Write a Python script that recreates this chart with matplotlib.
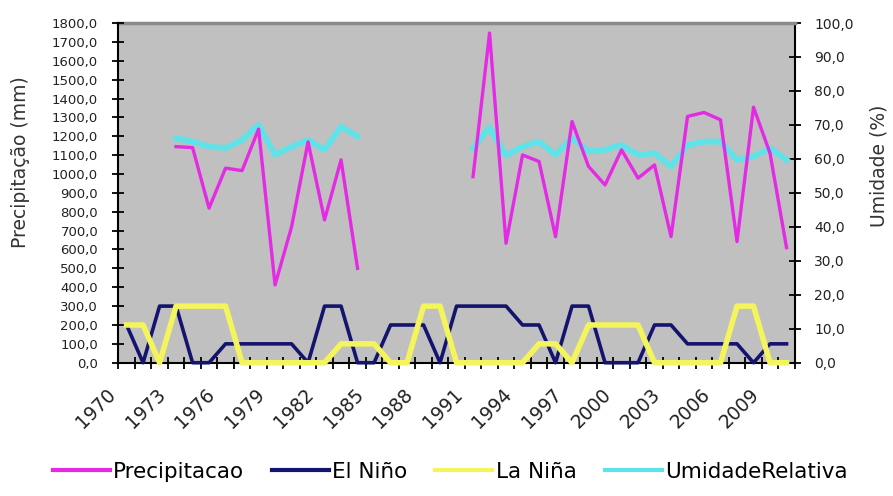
import matplotlib
matplotlib.use("Agg")
import matplotlib.pyplot as plt
import numpy as np
from matplotlib.transforms import ScaledTranslation

nan = np.nan

# Annual series, 1970-2010
years = list(range(1970, 2011))

precipitacao = [nan, nan, nan, 1145, 1140, 819, 1031, 1018, 1238, 412,
                720, 1170, 757, 1075, 500, nan, nan, nan, nan, nan,
                nan, 986, 1747, 633, 1101, 1066, 668, 1278, 1040, 942,
                1128, 978, 1048, 668, 1305, 1326, 1287, 642, 1354, 1110,
                610]

el_nino = [200, 0, 300, 300, 0, 0, 100, 100, 100, 100,
           100, 0, 300, 300, 0, 0, 200, 200, 200, 0,
           300, 300, 300, 300, 200, 200, 0, 300, 300, 0,
           0, 0, 200, 200, 100, 100, 100, 100, 0, 100,
           100]

la_nina = [200, 200, 0, 300, 300, 300, 300, 0, 0, 0,
           0, 0, 0, 100, 100, 100, 0, 0, 300, 300,
           0, 0, 0, 0, 0, 100, 100, 0, 200, 200,
           200, 200, 0, 0, 0, 0, 0, 300, 300, 0,
           0]

umidade = [nan, nan, nan, 66.1, 65.1, 63.6, 63.2, 65.6, 70.0, 61.2,
           63.6, 65.6, 62.7, 69.5, 66.6, nan, nan, nan, nan, nan,
           nan, 63.2, 69.3, 61.0, 63.6, 65.1, 61.2, 66.1, 62.2, 62.7,
           64.1, 61.2, 61.7, 57.8, 64.1, 65.1, 65.1, 59.7, 60.7, 63.2,
           59.7]

prec_ticks = list(range(0, 1900, 100))
umid_ticks = list(range(0, 110, 10))
year_labels = [str(y) for y in years[::3]]

series_names = ["Precipitacao", "El Niño", "La Niña", "UmidadeRelativa"]
colors = {"prec": "#E42BE4", "nino": "#14146E", "nina": "#F4F45C", "umid": "#5FE3E8"}
text_color = "#222222"

plt.rcParams["font.family"] = ["DejaVu Sans"]

fig = plt.figure(figsize=(8.93, 4.96), dpi=100)
fig.patch.set_facecolor("white")

ax = fig.add_axes([0.1325, 0.2687, 0.7575, 0.6849])
ax2 = ax.twinx()

# secondary axes carries the plot background and the humidity line,
# primary axes sits above it with a transparent patch
ax.set_zorder(2)
ax2.set_zorder(1)
ax.patch.set_visible(False)
ax2.patch.set_visible(True)
ax2.patch.set_facecolor("#C0C0C0")

x = np.arange(len(years))

l_umid, = ax2.plot(x, umidade, color=colors["umid"], lw=4.2, solid_joinstyle="round",
                   label=series_names[3])
l_nino, = ax.plot(x, el_nino, color=colors["nino"], lw=2.6, clip_on=False,
                  label=series_names[1], zorder=3)
l_nina, = ax.plot(x, la_nina, color=colors["nina"], lw=4.0, clip_on=False,
                  label=series_names[2], zorder=4)
l_prec, = ax.plot(x, precipitacao, color=colors["prec"], lw=2.4,
                  label=series_names[0], zorder=5)

ax.set_xlim(-0.5, len(years) - 0.5)
ax.set_ylim(0, 1800)
ax2.set_ylim(0, 100)

# category boundaries carry the tick marks, labels sit at category centres
ax.set_xticks(np.arange(-0.5, len(years), 1.0))
ax.set_xticklabels([])
ax.set_xticks(x[::3], minor=True)
ax.set_xticklabels(year_labels, minor=True, rotation=45, ha="right", va="top",
                   rotation_mode="anchor", fontsize=13.5, color=text_color)
ax.tick_params(axis="x", which="major", direction="inout", length=9, width=1.3, color="black")
ax.tick_params(axis="x", which="minor", length=0, pad=6)
shift = ScaledTranslation(-14.5 / 72, -10 / 72, fig.dpi_scale_trans)
for lab in ax.get_xticklabels(minor=True):
    lab.set_transform(lab.get_transform() + shift)

ax.set_yticks(prec_ticks)
ax.set_yticklabels([f"{v},0" for v in prec_ticks], fontsize=9.5, color=text_color)
ax.tick_params(axis="y", direction="inout", length=9, width=1.3, pad=10)

ax2.set_yticks(umid_ticks)
ax2.set_yticklabels([f"{v},0" for v in umid_ticks], fontsize=10, color=text_color)
ax2.tick_params(axis="y", direction="inout", length=9, width=1.3, pad=9.5)

for a in (ax, ax2):
    for s in a.spines.values():
        s.set_visible(False)
ax.spines["left"].set_visible(True)
ax.spines["left"].set_linewidth(1.5)
ax.spines["bottom"].set_visible(True)
ax.spines["bottom"].set_linewidth(1.5)
ax2.spines["right"].set_visible(True)
ax2.spines["right"].set_linewidth(1.5)
ax2.spines["top"].set_visible(True)
ax2.spines["top"].set_color("#8A8A8A")
ax2.spines["top"].set_linewidth(2.5)

ax.set_ylabel("Precipitação (mm)", fontsize=13.5, color="#333333")
ax.yaxis.set_label_coords(-0.131, 0.59)
ax2.set_ylabel("Umidade (%)", fontsize=13.5, color="#333333", rotation=90)
ax2.yaxis.set_label_coords(1.11, 0.58)

handles = [l_prec, l_nino, l_nina, l_umid]
leg = fig.legend(handles, series_names, loc="center", ncol=4, frameon=False,
                 bbox_to_anchor=(450 / 893, 1 - 472 / 496), fontsize=15.5,
                 handlelength=2.65, handletextpad=0.15, columnspacing=1.3)
for h in leg.get_lines():
    h.set_linewidth(3)

fig.savefig("out.png", dpi=100)
